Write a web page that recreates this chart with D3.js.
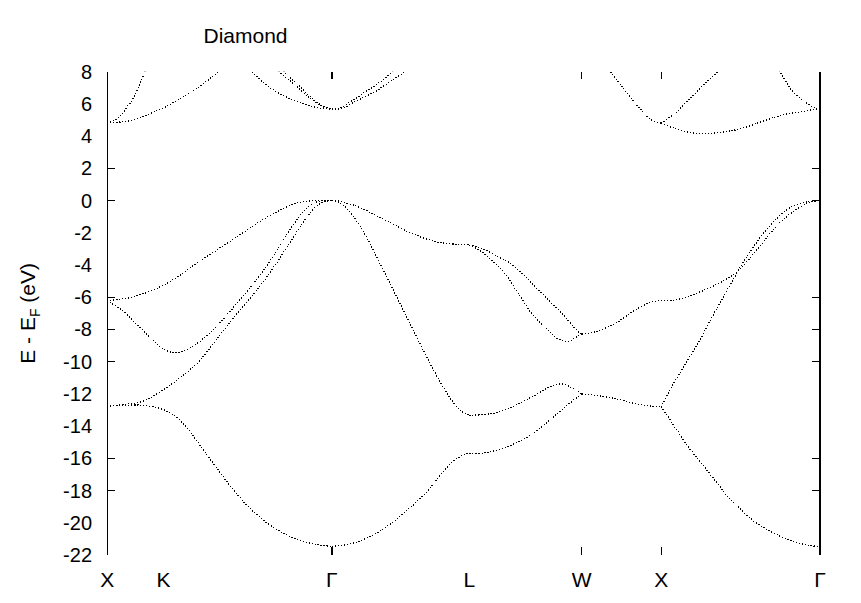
<!DOCTYPE html>
<html><head><meta charset="utf-8">
<script src="https://cdn.jsdelivr.net/npm/d3@7"></script>
<style>
html,body{margin:0;padding:0;background:#fff;}
</style></head>
<body><svg id="c" width="861" height="603"></svg>
<script>
// ---- data ----
const title = "Diamond";
const kNodes  = [0, 0.3536, 1.4142, 2.2802, 2.9873, 3.4873, 4.4873];
const kLabels = ["X", "K", "Γ", "L", "W", "X", "Γ"];
const kTickMarks = [2, 4, 5];               // node ticks that are drawn
const yTickValues = [-22,-20,-18,-16,-14,-12,-10,-8,-6,-4,-2,0,2,4,6,8];
const yTickMarks  = [2, 0, -6, -8, -10, -16, -18];
const yDomain = [-22, 8];

// X -> K -> Gamma
const bandsXKG = [
  [[0,-12.76],[0.081,-12.72],[0.206,-12.70],[0.332,-12.9],[0.416,-13.3],[0.500,-14.1],[0.584,-15.2],[0.689,-16.6],[0.793,-17.95],[0.898,-19.1],[1.004,-20.0],[1.108,-20.65],[1.213,-21.08],[1.318,-21.36],[1.4142,-21.46]],
  [[0,-12.76],[0.111,-12.64],[0.227,-12.45],[0.374,-11.6],[0.479,-10.84],[0.584,-9.9],[0.689,-8.6],[0.793,-7.3],[0.917,-5.85],[1.004,-4.75],[1.067,-3.85],[1.130,-2.9],[1.171,-2.3],[1.213,-1.65],[1.255,-1.05],[1.297,-0.55],[1.339,-0.2],[1.38,-0.04],[1.4142,0]],
  [[0,-6.22],[0.017,-6.32],[0.080,-6.7],[0.164,-7.45],[0.269,-8.48],[0.353,-9.2],[0.426,-9.45],[0.521,-9.15],[0.647,-8.2],[0.752,-7.12],[0.835,-6.15],[0.92,-5.15],[1.004,-4.05],[1.067,-3.1],[1.130,-2.1],[1.19,-1.25],[1.234,-0.7],[1.276,-0.3],[1.318,-0.08],[1.36,-0.01],[1.4142,0]],
  [[0,-6.22],[0.080,-6.12],[0.164,-5.98],[0.374,-5.15],[0.584,-3.75],[0.793,-2.4],[1.004,-1.05],[1.171,-0.22],[1.276,-0.02],[1.4142,0]],
  [[0,4.81],[0.080,4.88],[0.164,5.0],[0.269,5.4],[0.374,5.85],[0.479,6.45],[0.584,7.1],[0.699,8.0],[0.804,8.9]],
  [[0,4.81],[0.036,4.95],[0.080,5.22],[0.124,5.8],[0.164,6.35],[0.206,7.25],[0.237,8.0],[0.281,9.0]],
  [[0.835,8.8],[0.911,8.0],[1.005,7.15],[1.056,6.8],[1.112,6.5],[1.169,6.25],[1.213,6.1],[1.295,5.83],[1.352,5.72],[1.4142,5.68]],
  [[1.024,8.8],[1.081,8.0],[1.150,7.45],[1.213,6.9],[1.276,6.35],[1.320,6.04],[1.370,5.78],[1.4142,5.68]],
  [[1.056,8.8],[1.112,8.0],[1.182,7.35],[1.245,6.78],[1.308,6.2],[1.352,5.9],[1.4142,5.68]]
];
// Gamma -> L
const bandsGL = [
  [[1.4142,5.68],[1.454,5.69],[1.517,6.04],[1.580,6.45],[1.643,6.86],[1.706,7.28],[1.791,7.94],[1.874,8.7]],
  [[1.4142,5.68],[1.465,5.7],[1.497,5.8],[1.560,6.14],[1.623,6.45],[1.686,6.76],[1.749,7.17],[1.812,7.59],[1.864,7.94],[1.937,8.6]],
  [[1.4142,0],[1.454,-0.02],[1.580,-0.39],[1.686,-0.9],[1.791,-1.42],[1.895,-1.94],[2.000,-2.35],[2.105,-2.62],[2.210,-2.72],[2.2802,-2.75]],
  [[1.4142,0],[1.454,-0.07],[1.517,-0.59],[1.580,-1.42],[1.643,-2.45],[1.706,-3.7],[1.791,-5.35],[1.874,-7.0],[1.958,-8.66],[2.042,-10.3],[2.105,-11.4],[2.158,-12.25],[2.210,-12.9],[2.252,-13.22],[2.2802,-13.33]],
  [[1.4142,-21.46],[1.497,-21.38],[1.560,-21.22],[1.623,-21.0],[1.686,-20.7],[1.749,-20.3],[1.812,-19.85],[1.874,-19.35],[1.937,-18.8],[2.000,-18.2],[2.052,-17.6],[2.105,-16.95],[2.158,-16.35],[2.210,-15.95],[2.252,-15.76],[2.2802,-15.7]]
];
// L -> W
const bandsLW = [
  [[2.2802,-2.75],[2.357,-2.97],[2.462,-3.49],[2.515,-3.75],[2.567,-4.15],[2.62,-4.62],[2.672,-5.14],[2.777,-6.18],[2.882,-7.22],[2.965,-8.15],[2.9873,-8.29]],
  [[2.2802,-2.75],[2.357,-3.18],[2.420,-3.7],[2.504,-4.52],[2.588,-5.76],[2.672,-7.0],[2.756,-7.85],[2.840,-8.6],[2.903,-8.75],[2.955,-8.46],[2.9873,-8.29]],
  [[2.2802,-13.33],[2.420,-13.22],[2.546,-12.81],[2.672,-12.19],[2.798,-11.52],[2.861,-11.38],[2.924,-11.6],[2.9873,-12.0]],
  [[2.2802,-15.7],[2.378,-15.66],[2.483,-15.39],[2.588,-14.98],[2.693,-14.36],[2.798,-13.53],[2.882,-12.81],[2.9873,-12.0]]
];
// W -> X
const bandsWX = [
  [[2.9873,-8.29],[3.071,-8.15],[3.197,-7.63],[3.322,-6.8],[3.428,-6.29],[3.4873,-6.22]],
  [[2.9873,-12.0],[3.071,-12.08],[3.197,-12.29],[3.322,-12.6],[3.428,-12.76],[3.4873,-12.8]],
  [[3.102,8.9],[3.176,7.9],[3.259,6.86],[3.343,5.83],[3.428,5.0],[3.4873,4.8]]
];
// X -> Gamma
const bandsXG = [
  [[3.4873,4.8],[3.573,5.42],[3.679,6.45],[3.784,7.48],[3.837,7.94],[3.889,8.5]],
  [[3.4873,4.8],[3.573,4.48],[3.679,4.21],[3.784,4.17],[3.889,4.27],[3.994,4.48],[4.120,4.9],[4.246,5.31],[4.372,5.52],[4.456,5.66],[4.4873,5.68]],
  [[4.172,8.8],[4.235,8.0],[4.309,6.86],[4.393,6.14],[4.456,5.73],[4.4873,5.68]],
  [[3.4873,-6.22],[3.573,-6.18],[3.679,-5.87],[3.784,-5.45],[3.889,-4.94],[3.994,-4.15],[4.099,-2.95],[4.204,-1.7],[4.309,-0.75],[4.414,-0.15],[4.4873,0]],
  [[3.4873,-12.8],[3.553,-11.57],[3.616,-10.53],[3.679,-9.49],[3.742,-8.46],[3.808,-7.22],[3.868,-6.18],[3.994,-4.0],[4.099,-2.45],[4.204,-1.21],[4.309,-0.39],[4.414,-0.07],[4.4873,0]],
  [[3.4873,-12.8],[3.532,-13.43],[3.573,-14.05],[3.658,-15.29],[3.742,-16.32],[3.826,-17.36],[3.910,-18.4],[3.994,-19.22],[4.078,-19.95],[4.162,-20.47],[4.246,-20.88],[4.329,-21.19],[4.414,-21.4],[4.4873,-21.46]]
];

// ---- drawing ----
const FONT = "'Liberation Sans', Arial, Helvetica, sans-serif";
const svg = d3.select("#c");
const x = d3.scaleLinear().domain([kNodes[0], kNodes[kNodes.length-1]]).range([107.3, 820]);
const y = d3.scaleLinear().domain(yDomain).range([555, 71.7]);

svg.append("defs").append("clipPath").attr("id","pc")
  .append("rect").attr("x", x.range()[0]).attr("y", y(yDomain[1]))
  .attr("width", x.range()[1]-x.range()[0]).attr("height", y(yDomain[0])-y(yDomain[1]));

const line = d3.line().x(d=>x(d[0])).y(d=>y(d[1])).curve(d3.curveCatmullRom.alpha(0.5));
const allBands = [].concat(bandsXKG, bandsGL, bandsLW, bandsWX, bandsXG);
svg.append("g").attr("clip-path","url(#pc)")
  .selectAll("path").data(allBands).join("path")
  .attr("d", line).attr("fill","none").attr("stroke","#000")
  .attr("stroke-width",1.2).attr("stroke-dasharray","1.2,1.8")
  .attr("shape-rendering","crispEdges");

// frame: left and right axes
const yTop = y(yDomain[1]), yBot = y(yDomain[0]);
[x.range()[0], x.range()[1]].forEach(px => {
  svg.append("line").attr("x1",px).attr("x2",px).attr("y1",yTop).attr("y2",yBot)
    .attr("stroke","#000").attr("stroke-width",1.2).attr("shape-rendering","crispEdges");
});
// y ticks (inward on both sides)
const tl = 8;
yTickMarks.forEach(v => {
  svg.append("line").attr("x1",x.range()[0]).attr("x2",x.range()[0]+tl).attr("y1",y(v)).attr("y2",y(v))
    .attr("stroke","#000").attr("stroke-width",1.2).attr("shape-rendering","crispEdges");
  svg.append("line").attr("x1",x.range()[1]-tl).attr("x2",x.range()[1]).attr("y1",y(v)).attr("y2",y(v))
    .attr("stroke","#000").attr("stroke-width",1.2).attr("shape-rendering","crispEdges");
});
// y tick labels
svg.append("g").selectAll("text").data(yTickValues).join("text")
  .attr("font-family",FONT)
  .attr("x", 92).attr("y", d=>y(d)).attr("dy","0.35em")
  .attr("text-anchor","end").attr("font-size",20)
  .text(d => String(d));
// k ticks
kTickMarks.forEach(i => {
  const px = x(kNodes[i]);
  svg.append("line").attr("x1",px).attr("x2",px).attr("y1",yTop).attr("y2",yTop+7)
    .attr("stroke","#000").attr("stroke-width",1.2).attr("shape-rendering","crispEdges");
  svg.append("line").attr("x1",px).attr("x2",px).attr("y1",yBot-8).attr("y2",yBot)
    .attr("stroke","#000").attr("stroke-width",1.2).attr("shape-rendering","crispEdges");
});
// k labels
svg.append("g").selectAll("text").data(kLabels).join("text")
  .attr("font-family",FONT)
  .attr("x",(d,i)=>x(kNodes[i])).attr("y",587)
  .attr("text-anchor","middle").attr("font-size",21).text(d=>d);
// title
svg.append("text").attr("font-family",FONT).attr("x",245.5).attr("y",43).attr("text-anchor","middle")
  .attr("font-size",21).text(title);
// y label
const yl = svg.append("text").attr("font-family",FONT)
  .attr("transform",`translate(35,${(yTop+yBot)/2}) rotate(-90)`)
  .attr("text-anchor","middle").attr("font-size",21);
yl.append("tspan").text("E - E");
yl.append("tspan").attr("font-size",14).attr("dy",5).text("F");
yl.append("tspan").attr("dy",-5).text(" (eV)");
</script></body></html>
